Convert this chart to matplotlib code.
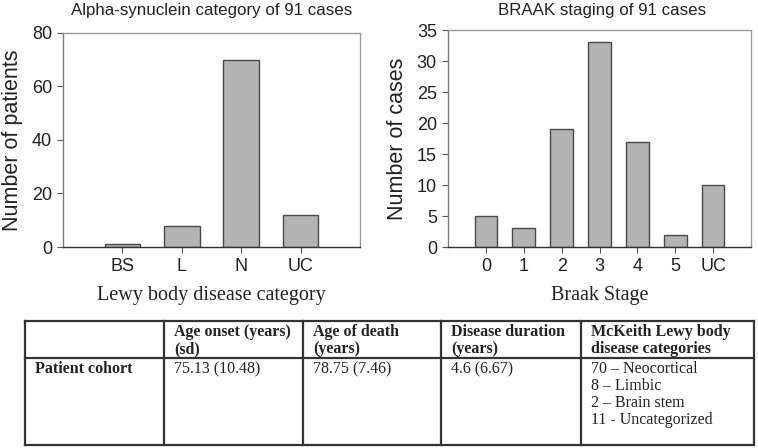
import matplotlib
matplotlib.use('Agg')
import matplotlib.pyplot as plt
import numpy as np

# chart data
lewy_cats = ['BS', 'L', 'N', 'UC']
lewy_counts = [1, 8, 70, 12]
braak_stages = ['0', '1', '2', '3', '4', '5', 'UC']
braak_counts = [5, 3, 19, 33, 17, 2, 10]

# table data
table_header = ['', 'Age onset (years)\n(sd)', 'Age of death\n(years)',
                'Disease duration\n(years)', 'McKeith Lewy body\ndisease categories']
table_row = ['Patient cohort', '75.13 (10.48)', '78.75 (7.46)', '4.6 (6.67)',
             '70 – Neocortical\n8 – Limbic\n2 – Brain stem\n11 - Uncategorized']

W, H = 758, 448
plt.rcParams['font.family'] = ['Liberation Sans', 'DejaVu Sans']
txt = '#222222'
bar_face = '#b3b3b3'
bar_edge = '#4a4a4a'

fig = plt.figure(figsize=(W / 100, H / 100), dpi=100)


def px_axes(x0, y0, x1, y1):
    return fig.add_axes([x0 / W, 1 - y1 / H, (x1 - x0) / W, (y1 - y0) / H])


def style(ax):
    ax.spines['top'].set_color('#9a9a9a')
    ax.spines['right'].set_color('#9a9a9a')
    ax.spines['left'].set_color('#7a7a7a')
    ax.spines['bottom'].set_color('#333333')
    for s in ax.spines.values():
        s.set_linewidth(1.0)
    ax.tick_params(direction='out', length=4, width=0.8, colors='#555555',
                   labelcolor=txt, labelsize=13, pad=4)


# left chart
ax1 = px_axes(63, 33, 360, 247)
x1 = np.arange(1, len(lewy_cats) + 1)
ax1.bar(x1, lewy_counts, width=0.6, color=bar_face, edgecolor=bar_edge, linewidth=1)
ax1.set_xlim(0, 5)
ax1.set_ylim(0, 80)
ax1.set_yticks([0, 20, 40, 60, 80])
ax1.set_xticks(x1)
ax1.set_xticklabels(lewy_cats)
style(ax1)
ax1.set_ylabel('Number of patients', fontsize=15.5, color=txt, labelpad=6)
ax1.set_xlabel('Lewy body disease category', fontsize=14.5, color=txt,
               family=['Liberation Serif'], labelpad=8)
fig.text(212 / W, 1 - 10 / H, 'Alpha-synuclein category of 91 cases',
         ha='center', va='center', fontsize=12.2, color=txt)

# right chart
ax2 = px_axes(448, 30, 751, 247)
x2 = np.arange(len(braak_stages))
ax2.bar(x2, braak_counts, width=0.6, color=bar_face, edgecolor=bar_edge, linewidth=1)
ax2.set_xlim(-1, 7)
ax2.set_ylim(0, 35)
ax2.set_yticks(range(0, 36, 5))
ax2.set_xticks(x2)
ax2.set_xticklabels(braak_stages)
style(ax2)
ax2.set_ylabel('Number of cases', fontsize=15.5, color=txt, labelpad=6)
ax2.set_xlabel('Braak Stage', fontsize=14.5, color=txt,
               family=['Liberation Serif'], labelpad=8)
fig.text(602 / W, 1 - 10 / H, 'BRAAK staging of 91 cases',
         ha='center', va='center', fontsize=12.2, color=txt)

# table
tab = fig.add_axes([0, 0, 1, 1])
tab.set_xlim(0, W)
tab.set_ylim(H, 0)
tab.axis('off')
col_x = [25, 164, 303, 441, 581, 754]
row_y = [321, 358, 445]
lc = '#333333'
for x in col_x:
    tab.plot([x, x], [row_y[0], row_y[-1]], color=lc, lw=1.6, solid_capstyle='projecting')
for y in row_y:
    tab.plot([col_x[0], col_x[-1]], [y, y], color=lc, lw=1.6, solid_capstyle='projecting')

step = 17
for i in range(len(table_header)):
    for k, line in enumerate(table_header[i].split('\n')):
        tab.text(col_x[i] + 10, row_y[0] + 11 + k * step, line, ha='left', va='center',
                 fontsize=11.5, fontweight='bold', family=['Liberation Serif'], color=txt)
    for k, line in enumerate(table_row[i].split('\n')):
        tab.text(col_x[i] + 10, row_y[1] + 11 + k * step, line, ha='left', va='center',
                 fontsize=11.5, fontweight='bold' if i == 0 else 'normal',
                 family=['Liberation Serif'], color=txt)

fig.savefig('out.png', dpi=100)
